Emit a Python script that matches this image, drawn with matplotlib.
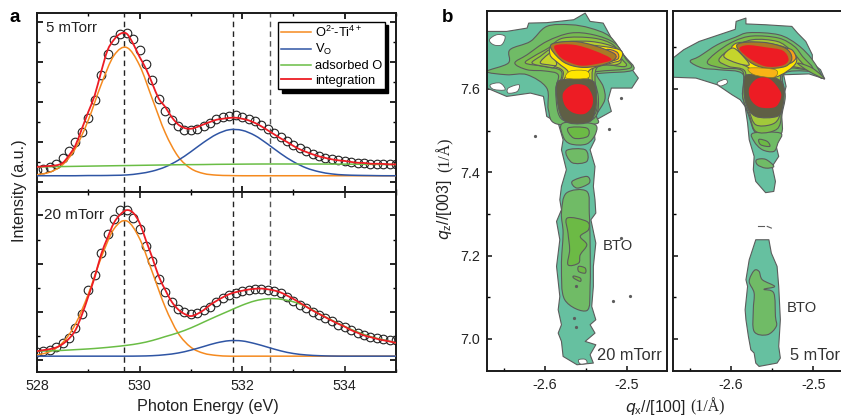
import numpy as np
import matplotlib
matplotlib.use("Agg")
import matplotlib.pyplot as plt
from matplotlib.lines import Line2D
from matplotlib.patches import PathPatch, Polygon
from matplotlib.path import Path
from matplotlib.ticker import MultipleLocator

plt.rcParams['font.family'] = ['Liberation Sans', 'DejaVu Sans']
plt.rcParams['mathtext.default'] = 'regular'

# ---- panel a data
energy_fit = np.arange(528, 535.01, 0.25)
energy_obs = np.arange(528, 535.01, 0.125)
peak_lines = [529.69, 531.83, 532.55]

orange_5 = [.38, .51, .88, 1.70, 3.11, 4.88, 6.34, 6.74, 5.85, 4.16, 2.48, 1.30, .69, .44, .36, .34, .33, .33, .33, .33,
            .33, .33, .33, .33, .33, .33, .33, .33, .33]
blue_5 = [.33, .33, .33, .33, .34, .34, .35, .37, .44, .56, .77, 1.10, 1.53, 2.00, 2.40, 2.63, 2.60, 2.34, 1.91, 1.44,
          1.03, .72, .53, .42, .37, .35, .34, .33, .33]
green_5 = [.77, .78, .79, .80, .81, .82, .83, .84, .85, .86, .87, .88, .885, .89, .90, .905, .91, .915, .917, .917,
           .917, .917, .915, .912, .91, .905, .90, .895, .89]
red_5 = [.77, .80, .82, .85, .97, 1.35, 1.85, 2.68, 3.52, 4.35, 5.52, 6.60, 7.13, 7.43, 7.43, 6.93, 6.27, 5.68, 4.93,
         4.18, 3.77, 3.27, 2.90, 2.72, 2.68, 2.77, 2.90, 3.02, 3.13, 3.18, 3.22, 3.23, 3.18, 3.10, 2.97, 2.80, 2.60,
         2.40, 2.20, 2.02, 1.82, 1.65, 1.52, 1.40, 1.30, 1.22, 1.15, 1.10, 1.07, 1.02, .98, .97, .93, .93, .92, .90, .90]
obs_5 = [.63, .68, .77, .93, 1.23, 1.57, 2.02, 2.52, 3.23, 4.13, 5.35, 6.43, 7.10, 7.40, 7.47, 7.18, 6.60, 5.93, 5.10,
         4.18, 3.57, 3.10, 2.80, 2.60, 2.60, 2.68, 2.83, 2.97, 3.18, 3.27, 3.33, 3.37, 3.27, 3.18, 3.05, 2.88, 2.68,
         2.47, 2.27, 2.07, 1.88, 1.72, 1.57, 1.43, 1.33, 1.23, 1.17, 1.10, 1.05, 1.02, .97, .95, .93, .92, .92, .90, .90]

orange_20 = [.22, .36, .73, 1.50, 2.74, 4.24, 5.44, 5.77, 5.04, 3.64, 2.20, 1.13, .54, .29, .20, .17, .17, .17, .17, .17,
             .17, .17, .17, .17, .17, .17, .17, .17, .17]
blue_20 = [.17, .17, .17, .17, .17, .17, .17, .17, .175, .19, .23, .30, .42, .57, .72, .81, .80, .69, .54, .39,
           .28, .22, .19, .175, .17, .17, .17, .17, .17]
green_20 = [.375, .39, .41, .44, .47, .51, .56, .62, .70, .82, .98, 1.14, 1.34, 1.58, 1.82, 2.05, 2.28, 2.46, 2.55, 2.53,
            2.42, 2.22, 1.93, 1.66, 1.40, 1.17, .98, .85, .72]
red_20 = [.375, .42, .46, .53, .67, .90, 1.25, 1.88, 2.64, 3.44, 4.38, 5.07, 5.69, 6.04, 6.22, 6.11, 5.69, 4.96, 4.24,
          3.47, 2.92, 2.43, 2.11, 1.92, 1.83, 1.92, 2.08, 2.29, 2.46, 2.61, 2.74, 2.82, 2.88, 2.93, 2.96, 2.97, 2.94,
          2.89, 2.81, 2.68, 2.54, 2.38, 2.22, 2.06, 1.92, 1.78, 1.64, 1.51, 1.39, 1.25, 1.14, 1.03, .96, .89, .83, .78, .72]
obs_20 = [.36, .40, .44, .56, .72, .93, 1.32, 1.92, 2.92, 3.54, 4.44, 5.21, 5.86, 6.22, 6.22, 5.90, 5.42, 4.75, 4.10,
          3.36, 2.81, 2.40, 2.11, 1.99, 1.93, 1.97, 2.08, 2.19, 2.42, 2.57, 2.69, 2.79, 2.85, 2.89, 2.94, 2.97, 2.92,
          2.86, 2.78, 2.64, 2.47, 2.29, 2.15, 2.00, 1.86, 1.74, 1.61, 1.47, 1.36, 1.25, 1.14, 1.04, .97, .92, .88, .85, .83]

# ---- panel b data, contour outlines in (qx, qz)
l1_20 = [(-2.671, 7.738), (-2.647, 7.738), (-2.622, 7.746), (-2.620, 7.758), (-2.598, 7.759), (-2.565, 7.766),
         (-2.551, 7.782), (-2.545, 7.762), (-2.529, 7.758), (-2.519, 7.722), (-2.504, 7.678), (-2.492, 7.642),
         (-2.486, 7.626), (-2.494, 7.602), (-2.519, 7.602), (-2.523, 7.574), (-2.519, 7.546), (-2.541, 7.522),
         (-2.539, 7.478), (-2.545, 7.454), (-2.539, 7.414), (-2.541, 7.366), (-2.539, 7.334), (-2.538, 7.302),
         (-2.544, 7.286), (-2.538, 7.230), (-2.541, 7.174), (-2.541, 7.126), (-2.543, 7.078), (-2.538, 7.046),
         (-2.545, 7.034), (-2.539, 7.014), (-2.551, 6.994), (-2.538, 6.986), (-2.545, 6.962), (-2.541, 6.942),
         (-2.561, 6.938), (-2.578, 6.958), (-2.580, 6.994), (-2.584, 7.014), (-2.580, 7.034), (-2.584, 7.070),
         (-2.582, 7.102), (-2.586, 7.174), (-2.582, 7.238), (-2.586, 7.282), (-2.580, 7.310), (-2.582, 7.334),
         (-2.580, 7.366), (-2.574, 7.406), (-2.580, 7.454), (-2.578, 7.478), (-2.584, 7.518), (-2.598, 7.534),
         (-2.602, 7.582), (-2.618, 7.590), (-2.647, 7.582), (-2.671, 7.602)]
l2_20 = [(-2.671, 7.642), (-2.645, 7.662), (-2.643, 7.694), (-2.618, 7.714), (-2.598, 7.750), (-2.569, 7.754),
         (-2.545, 7.746), (-2.521, 7.726), (-2.504, 7.682), (-2.492, 7.646), (-2.529, 7.638), (-2.537, 7.634),
         (-2.529, 7.606), (-2.527, 7.574), (-2.537, 7.538), (-2.538, 7.516), (-2.586, 7.516), (-2.596, 7.550),
         (-2.598, 7.602), (-2.622, 7.634), (-2.647, 7.634)]
patches_20 = [
    [(-2.578, 7.518), (-2.541, 7.516), (-2.538, 7.494), (-2.549, 7.468), (-2.569, 7.468), (-2.578, 7.486)],
    [(-2.574, 7.452), (-2.551, 7.454), (-2.549, 7.426), (-2.567, 7.423)],
    [(-2.567, 7.378), (-2.549, 7.390), (-2.546, 7.374), (-2.561, 7.362)],
    [(-2.574, 7.350), (-2.549, 7.354), (-2.546, 7.302), (-2.545, 7.230), (-2.545, 7.126), (-2.549, 7.068),
     (-2.576, 7.094), (-2.580, 7.174), (-2.578, 7.254), (-2.580, 7.302)],
]
inner_20 = [
    [(-2.572, 7.506), (-2.549, 7.506), (-2.548, 7.486), (-2.565, 7.482)],
    [(-2.573, 7.290), (-2.549, 7.282), (-2.547, 7.262), (-2.557, 7.246), (-2.549, 7.226), (-2.557, 7.202),
     (-2.559, 7.182), (-2.572, 7.178), (-2.570, 7.214), (-2.572, 7.254)],
    [(-2.559, 7.174), (-2.551, 7.170), (-2.551, 7.158), (-2.559, 7.162)],
    [(-2.565, 7.151), (-2.557, 7.146), (-2.557, 7.138), (-2.565, 7.146)],
]
c1_20 = [(-2.637, 7.662), (-2.622, 7.682), (-2.598, 7.714), (-2.569, 7.734), (-2.541, 7.730), (-2.515, 7.710),
         (-2.502, 7.674), (-2.496, 7.650), (-2.535, 7.642), (-2.541, 7.634), (-2.535, 7.582), (-2.537, 7.538),
         (-2.549, 7.522), (-2.574, 7.522), (-2.584, 7.542), (-2.587, 7.598), (-2.584, 7.634), (-2.600, 7.643),
         (-2.622, 7.646)]
c2_20 = [(-2.624, 7.662), (-2.614, 7.678), (-2.596, 7.698), (-2.578, 7.722), (-2.541, 7.722), (-2.517, 7.706),
         (-2.507, 7.674), (-2.502, 7.654), (-2.537, 7.650), (-2.537, 7.550), (-2.551, 7.530), (-2.574, 7.530),
         (-2.582, 7.550), (-2.584, 7.598), (-2.580, 7.642), (-2.602, 7.654)]
c3_20 = [(-2.604, 7.670), (-2.594, 7.694), (-2.588, 7.710), (-2.545, 7.714), (-2.513, 7.698), (-2.507, 7.670),
         (-2.513, 7.658), (-2.541, 7.650), (-2.540, 7.574), (-2.545, 7.542), (-2.570, 7.538), (-2.580, 7.562),
         (-2.582, 7.602), (-2.578, 7.642), (-2.594, 7.658)]
yellow_20 = [(-2.594, 7.682), (-2.589, 7.706), (-2.549, 7.706), (-2.509, 7.694), (-2.508, 7.670), (-2.519, 7.662),
             (-2.545, 7.646), (-2.547, 7.622), (-2.541, 7.598), (-2.578, 7.606), (-2.576, 7.626), (-2.572, 7.642),
             (-2.584, 7.662)]
wing_a_20 = [(-2.616, 7.662), (-2.606, 7.678), (-2.592, 7.694), (-2.588, 7.654), (-2.600, 7.654)]
wing_b_20 = [(-2.606, 7.663), (-2.597, 7.682), (-2.591, 7.686), (-2.586, 7.658), (-2.596, 7.658)]
wing_c_20 = [(-2.525, 7.694), (-2.512, 7.688), (-2.511, 7.672), (-2.524, 7.668)]
dense_top_20 = [(-2.592, 7.694), (-2.590, 7.709), (-2.565, 7.714), (-2.540, 7.704), (-2.515, 7.684), (-2.517, 7.668),
                (-2.535, 7.655), (-2.557, 7.652), (-2.577, 7.664)]
dense_low_20 = [(-2.586, 7.610), (-2.574, 7.623), (-2.545, 7.622), (-2.538, 7.602), (-2.538, 7.558), (-2.545, 7.522),
                (-2.570, 7.518), (-2.582, 7.542)]
band_20 = [(-2.569, 7.643), (-2.549, 7.643), (-2.548, 7.626), (-2.574, 7.626)]
red_top_20 = [(-2.588, 7.704), (-2.565, 7.706), (-2.540, 7.692), (-2.519, 7.671), (-2.537, 7.660), (-2.557, 7.656),
              (-2.575, 7.668), (-2.584, 7.682)]
red_low_20 = [(-2.578, 7.590), (-2.566, 7.610), (-2.550, 7.607), (-2.542, 7.582), (-2.543, 7.557), (-2.552, 7.540),
              (-2.566, 7.543), (-2.576, 7.561)]
holes_20 = [
    [(-2.668, 7.718), (-2.659, 7.730), (-2.649, 7.726), (-2.653, 7.706), (-2.663, 7.706)],
    [(-2.667, 7.610), (-2.655, 7.614), (-2.649, 7.598), (-2.663, 7.599)],
    [(-2.645, 7.602), (-2.632, 7.610), (-2.634, 7.594), (-2.645, 7.590)],
    [(-2.559, 6.950), (-2.551, 6.951), (-2.549, 6.942), (-2.557, 6.940)],
]
specks_x_20 = [-2.562, -2.562, -2.565, -2.517, -2.496, -2.507, -2.522, -2.612, -2.507]
specks_z_20 = [7.126, 7.029, 7.050, 7.092, 7.103, 7.242, 7.505, 7.487, 7.578]

l1_5 = [(-2.671, 7.674), (-2.658, 7.694), (-2.639, 7.714), (-2.595, 7.743), (-2.594, 7.762), (-2.582, 7.770),
        (-2.582, 7.756), (-2.558, 7.754), (-2.526, 7.750), (-2.519, 7.734), (-2.509, 7.714), (-2.501, 7.682),
        (-2.501, 7.662), (-2.491, 7.646), (-2.486, 7.624), (-2.505, 7.636), (-2.536, 7.634), (-2.533, 7.606),
        (-2.536, 7.582), (-2.540, 7.558), (-2.540, 7.494), (-2.546, 7.470), (-2.542, 7.438), (-2.550, 7.414),
        (-2.546, 7.378), (-2.548, 7.354), (-2.558, 7.351), (-2.570, 7.378), (-2.573, 7.406), (-2.572, 7.438),
        (-2.578, 7.478), (-2.580, 7.518), (-2.583, 7.558), (-2.589, 7.574), (-2.599, 7.586), (-2.617, 7.610),
        (-2.643, 7.626), (-2.671, 7.628)]
l2_5 = [(-2.650, 7.666), (-2.639, 7.678), (-2.617, 7.706), (-2.595, 7.724), (-2.578, 7.735), (-2.542, 7.730),
        (-2.519, 7.706), (-2.501, 7.670), (-2.489, 7.626), (-2.505, 7.642), (-2.536, 7.636), (-2.534, 7.582),
        (-2.538, 7.538), (-2.540, 7.490), (-2.568, 7.490), (-2.579, 7.538), (-2.586, 7.582), (-2.586, 7.636),
        (-2.615, 7.646), (-2.635, 7.650)]
patches_5 = [
    [(-2.573, 7.494), (-2.540, 7.494), (-2.543, 7.470), (-2.548, 7.450), (-2.562, 7.454), (-2.572, 7.474)],
    [(-2.569, 7.430), (-2.558, 7.431), (-2.548, 7.414), (-2.558, 7.410), (-2.568, 7.418)],
]
inner_5 = [[(-2.566, 7.479), (-2.556, 7.474), (-2.553, 7.462), (-2.564, 7.466)]]
c1_5 = [(-2.629, 7.662), (-2.619, 7.686), (-2.597, 7.714), (-2.574, 7.727), (-2.542, 7.722), (-2.523, 7.702),
        (-2.513, 7.678), (-2.501, 7.646), (-2.536, 7.647), (-2.539, 7.582), (-2.540, 7.518), (-2.550, 7.498),
        (-2.570, 7.498), (-2.578, 7.538), (-2.586, 7.582), (-2.586, 7.642), (-2.611, 7.650)]
c2_5 = [(-2.615, 7.670), (-2.599, 7.698), (-2.574, 7.718), (-2.544, 7.714), (-2.528, 7.694), (-2.517, 7.670),
        (-2.511, 7.650), (-2.538, 7.650), (-2.538, 7.574), (-2.542, 7.530), (-2.552, 7.514), (-2.570, 7.514),
        (-2.578, 7.546), (-2.584, 7.586), (-2.583, 7.642), (-2.603, 7.654)]
yellow_5 = [(-2.601, 7.686), (-2.593, 7.710), (-2.558, 7.710), (-2.528, 7.694), (-2.521, 7.662), (-2.546, 7.628),
            (-2.572, 7.634), (-2.578, 7.650), (-2.593, 7.666)]
wing_a_5 = [(-2.609, 7.678), (-2.599, 7.698), (-2.589, 7.686), (-2.578, 7.658), (-2.593, 7.662)]
wing_c_5 = [(-2.536, 7.694), (-2.526, 7.694), (-2.521, 7.674), (-2.530, 7.662)]
tail_5 = [(-2.519, 7.662), (-2.501, 7.650), (-2.486, 7.624), (-2.505, 7.642)]
dense_top_5 = [(-2.593, 7.706), (-2.562, 7.712), (-2.534, 7.698), (-2.526, 7.674), (-2.534, 7.654), (-2.558, 7.650),
               (-2.578, 7.666)]
dense_low_5 = [(-2.584, 7.626), (-2.574, 7.634), (-2.546, 7.626), (-2.536, 7.606), (-2.537, 7.558), (-2.544, 7.534),
               (-2.570, 7.534), (-2.582, 7.566)]
band_5 = [(-2.578, 7.650), (-2.546, 7.646), (-2.548, 7.628), (-2.572, 7.634)]
red_top_5 = [(-2.590, 7.696), (-2.580, 7.705), (-2.558, 7.700), (-2.537, 7.692), (-2.530, 7.670), (-2.538, 7.656),
             (-2.558, 7.654), (-2.577, 7.672)]
red_low_5 = [(-2.578, 7.602), (-2.568, 7.625), (-2.553, 7.624), (-2.540, 7.594), (-2.540, 7.574), (-2.547, 7.556),
             (-2.565, 7.556), (-2.576, 7.574)]
holes_5 = [[(-2.617, 7.615), (-2.607, 7.623), (-2.605, 7.614), (-2.613, 7.607)]]
island_5 = [(-2.570, 7.238), (-2.554, 7.238), (-2.551, 7.206), (-2.544, 7.174), (-2.542, 7.126), (-2.540, 7.046),
            (-2.542, 6.982), (-2.540, 6.954), (-2.544, 6.942), (-2.566, 6.934), (-2.570, 6.942), (-2.572, 6.966),
            (-2.576, 6.974), (-2.579, 7.006), (-2.582, 7.046), (-2.583, 7.070), (-2.580, 7.126), (-2.582, 7.142),
            (-2.578, 7.190), (-2.574, 7.214)]
island_inner_5 = [(-2.572, 7.164), (-2.566, 7.162), (-2.562, 7.142), (-2.547, 7.126), (-2.560, 7.119), (-2.548, 7.110),
                  (-2.546, 7.054), (-2.545, 7.030), (-2.556, 7.010), (-2.572, 7.018), (-2.573, 7.070), (-2.572, 7.110),
                  (-2.578, 7.138)]

W, H = 841, 415
fig = plt.figure(figsize=(W / 100, H / 100), dpi=100)


def px_axes(left, top, right, bottom):
    return fig.add_axes([left / W, 1 - bottom / H, (right - left) / W, (bottom - top) / H])


def fig_text(x, y, s, **kw):
    return fig.text(x / W, 1 - y / H, s, **kw)


def smooth_path(pts, closed=False):
    # curve through the read-off points, nothing added between them but the Bezier handles
    p = np.asarray(pts, dtype=float)
    n = len(p)
    idx = range(n) if closed else range(n - 1)
    verts = [p[0]]
    codes = [Path.MOVETO]
    for i in idx:
        if closed:
            p0, p1, p2, p3 = p[i - 1], p[i], p[(i + 1) % n], p[(i + 2) % n]
        else:
            p0, p1, p2, p3 = p[max(i - 1, 0)], p[i], p[i + 1], p[min(i + 2, n - 1)]
        verts += [p1 + (p2 - p0) / 6, p2 - (p3 - p1) / 6, p2]
        codes += [Path.CURVE4] * 3
    return Path(verts, codes)


def curve(ax, x, y, color, lw):
    ax.add_patch(PathPatch(smooth_path(np.column_stack([x, y])), fc='none', ec=color, lw=lw, zorder=3))


ORANGE, BLUE, LGREEN, RED = '#f58a1f', '#2f55a4', '#6abd45', '#ed1c24'

# ---- panel a
ax1 = px_axes(37, 13, 396, 192)
ax2 = px_axes(37, 192, 396, 372)

for ax, orange, blue, green, red, obs in [(ax1, orange_5, blue_5, green_5, red_5, obs_5),
                                          (ax2, orange_20, blue_20, green_20, red_20, obs_20)]:
    ax.plot(energy_obs, obs, 'o', ms=6.2, mfc='none', mec='#222222', mew=0.8)
    curve(ax, energy_fit, orange, ORANGE, 1.1)
    curve(ax, energy_fit, blue, BLUE, 1.1)
    curve(ax, energy_fit, green, LGREEN, 1.1)
    curve(ax, energy_obs, red, RED, 1.3)
    for i, e in enumerate(peak_lines):
        ax.axvline(e, color='#222222' if i < 2 else '#555555', ls=(0, (4, 3)), lw=1.0)
    ax.set_xlim(528, 535)
    ax.xaxis.set_major_locator(MultipleLocator(2))
    ax.xaxis.set_minor_locator(MultipleLocator(1))
    ax.yaxis.set_major_locator(MultipleLocator(2))
    ax.yaxis.set_minor_locator(MultipleLocator(1))
    ax.tick_params(which='major', direction='in', length=4, width=1.2, top=True, right=True)
    ax.tick_params(which='minor', direction='in', length=2.5, width=1.0, top=True, right=True)
    ax.tick_params(axis='y', which='both', labelleft=False)
    for s in ax.spines.values():
        s.set_linewidth(1.4)
        s.set_color('#1a1a1a')

ax1.set_ylim(-0.483, 8.467)
ax2.set_ylim(-0.486, 6.97)
ax1.tick_params(axis='x', which='both', labelbottom=False)
ax2.tick_params(axis='x', labelsize=10.3, pad=5, colors='#222222')

ax1.text(0.025, 0.915, '5 mTorr', transform=ax1.transAxes, fontsize=10.8, va='center', color='#222222')
ax2.text(0.02, 0.875, '20 mTorr', transform=ax2.transAxes, fontsize=11, va='center', color='#222222')

handles = [Line2D([], [], color=ORANGE, lw=1.1), Line2D([], [], color=BLUE, lw=1.1),
           Line2D([], [], color=LGREEN, lw=1.1), Line2D([], [], color=RED, lw=1.3)]
labels = [r'O$^{2\text{-}}$-Ti$^{4+}$', 'V$_O$', 'adsorbed O', 'integration']
leg = ax1.legend(handles, labels, loc='upper left', bbox_to_anchor=(0.672, 0.95), borderaxespad=0, fontsize=9.3,
                 frameon=True, fancybox=False, framealpha=1, edgecolor='black', handlelength=2.3, handletextpad=0.35,
                 labelspacing=0.2, borderpad=0.2, shadow={'color': 'black', 'alpha': 1, 'ox': 2.5, 'oy': -2.5})
leg.get_frame().set_linewidth(1.0)
leg.set_zorder(10)

fig_text(208, 406, 'Photon Energy (eV)', fontsize=11.6, ha='center', va='center', color='#222222')
fig_text(20, 191, 'Intensity (a.u.)', fontsize=11.6, rotation=90, ha='center', va='center', color='#222222')
fig_text(10, 18, 'a', fontsize=13.5, fontweight='bold', ha='left', va='center')
fig_text(442, 18, 'b', fontsize=13.5, fontweight='bold', ha='left', va='center')

# ---- panel b
ax3 = px_axes(487, 11, 667, 371)
ax4 = px_axes(673, 11, 841, 371)

TEAL = '#66c0a0'
GREEN = '#70bb66'
GREEN2 = '#6cba45'
EDGE = '#5c5c5c'


def rough(ax, pts, color):
    ax.add_patch(Polygon(pts, closed=True, fc=color, ec=EDGE, lw=0.8, joinstyle='round', zorder=2))


def fill(ax, pts, color, lw=0.8, edge=EDGE):
    ax.add_patch(PathPatch(smooth_path(pts, closed=True), fc=color, ec=edge, lw=lw, zorder=2))


def hot_zone(ax, levels, dense_top, dense_low, band, band_color, red_top, red_low):
    for pts, col in levels:
        fill(ax, pts, col)
    fill(ax, dense_top, '#a87a26')
    fill(ax, dense_low, '#5f5f45')
    fill(ax, band, band_color, lw=0.5, edge='#8a7a20')
    fill(ax, red_top, RED, lw=0, edge='none')
    fill(ax, red_low, RED, lw=0, edge='none')


rough(ax3, l1_20, TEAL)
fill(ax3, l2_20, GREEN)
for p in patches_20:
    fill(ax3, p, GREEN)
for p in inner_20:
    fill(ax3, p, GREEN2)
hot_zone(ax3, [(c1_20, '#76bb50'), (c2_20, '#8dc63f'), (c3_20, '#b5cf2e'), (wing_a_20, '#97ca3d'),
               (wing_b_20, '#c5d52c'), (yellow_20, '#ffe600'), (wing_c_20, '#f7a11a')],
         dense_top_20, dense_low_20, band_20, '#ffe600', red_top_20, red_low_20)
for p in holes_20:
    fill(ax3, p, 'white', lw=0.6)
ax3.plot(specks_x_20, specks_z_20, 'o', ms=1.3, color=EDGE)

rough(ax4, l1_5, TEAL)
fill(ax4, l2_5, GREEN)
for p in patches_5:
    fill(ax4, p, GREEN)
for p in inner_5:
    fill(ax4, p, GREEN2)
hot_zone(ax4, [(c1_5, '#7cbc48'), (c2_5, '#a2c93a'), (tail_5, '#7cbc48'), (yellow_5, '#ffe600'),
               (wing_a_5, '#c5d52c'), (wing_c_5, '#f7a11a')],
         dense_top_5, dense_low_5, band_5, '#f9b416', red_top_5, red_low_5)
for p in holes_5:
    fill(ax4, p, 'white', lw=0.6)
rough(ax4, island_5, TEAL)
fill(ax4, island_inner_5, GREEN)
ax4.plot([-2.567, -2.560], [7.272, 7.272], color=EDGE, lw=0.8)
ax4.plot([-2.556, -2.551], [7.270, 7.266], color=EDGE, lw=0.8)

ax3.set_xlim(-2.671, -2.451)
ax4.set_xlim(-2.671, -2.466)
for ax in (ax3, ax4):
    ax.set_ylim(6.923, 7.787)
    ax.xaxis.set_major_locator(MultipleLocator(0.1))
    ax.xaxis.set_minor_locator(MultipleLocator(0.05))
    ax.yaxis.set_major_locator(MultipleLocator(0.2))
    ax.yaxis.set_minor_locator(MultipleLocator(0.1))
    ax.tick_params(which='major', direction='in', length=3.5, width=1.2, labelsize=10.3, colors='#222222', pad=5)
    ax.tick_params(which='minor', direction='in', length=2, width=1.0)
    ax.set_xticks([-2.6, -2.5])
    ax.set_xticklabels(['-2.6', '-2.5'])
    for s in ax.spines.values():
        s.set_linewidth(1.4)
        s.set_color('#1a1a1a')
ax3.set_yticks([7.0, 7.2, 7.4, 7.6])
ax3.set_yticklabels(['7.0', '7.2', '7.4', '7.6'])
ax4.set_yticks([7.0, 7.2, 7.4, 7.6])
ax4.tick_params(axis='y', labelleft=False)
ax4.spines['right'].set_visible(False)

ax3.text(-2.529, 7.222, 'BTO', fontsize=10.6, ha='left', va='center', color='#333333')
ax3.text(-2.537, 6.961, '20 mTorr', fontsize=11.8, ha='left', va='center', color='#333333')
ax4.text(-2.532, 7.075, 'BTO', fontsize=10.6, ha='left', va='center', color='#333333')
ax4.text(-2.528, 6.961, '5 mTorr', fontsize=11.8, ha='left', va='center', color='#333333', clip_on=True)

fig_text(625, 407, r'$\mathit{q}_x$//[100]', fontsize=11.3, ha='left', va='center', color='#222222')
fig_text(690, 407, '(1/Å)', fontsize=11.3, family='Liberation Serif', ha='left', va='center', color='#222222')
fig_text(445, 240, r'$\mathit{q}_z$//[003]', fontsize=11.3, rotation=90, ha='center', va='bottom', color='#222222')
fig_text(445, 172, '(1/Å)', fontsize=11.3, family='Liberation Serif', rotation=90, ha='center', va='bottom',
         color='#222222')

plt.savefig('out.png', dpi=100)
